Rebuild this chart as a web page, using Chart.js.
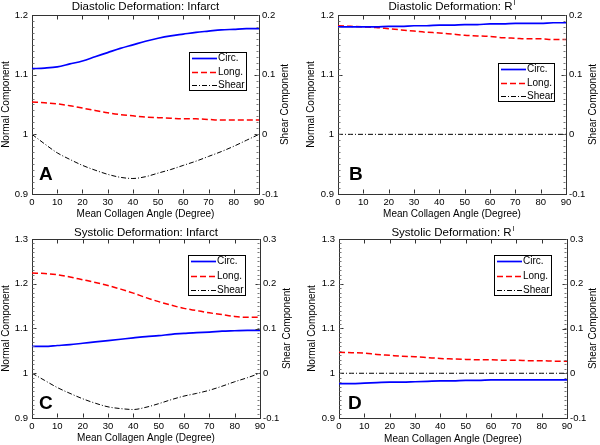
<!DOCTYPE html>
<html>
<head>
<meta charset="utf-8">
<script src="https://cdn.jsdelivr.net/npm/chart.js@4.4.1/dist/chart.umd.min.js"></script>
<style>
  html, body { margin: 0; padding: 0; background: #fff; }
  #wrap { position: relative; width: 600px; height: 445px; }
  canvas { position: absolute; }
</style>
</head>
<body>
<div id="wrap">
  <canvas id="cA" width="300" height="222" style="left:0;top:0"></canvas>
  <canvas id="cB" width="300" height="222" style="left:300px;top:0"></canvas>
  <canvas id="cC" width="300" height="223" style="left:0;top:222px"></canvas>
  <canvas id="cD" width="300" height="223" style="left:300px;top:222px"></canvas>
</div>
<script>
// --- data (every 5 degrees) ---
const angles = [0, 5, 10, 15, 20, 25, 30, 35, 40, 45, 50, 55, 60, 65, 70, 75, 80, 85, 90];
const angleTicks = [0, 10, 20, 30, 40, 50, 60, 70, 80, 90];
const seriesLabels = ["Circ.", "Long.", "Shear"];

// Diastolic, infarct
const diaInfCirc  = [1.110, 1.111, 1.113, 1.118, 1.123, 1.130, 1.137, 1.144, 1.150, 1.156, 1.161, 1.165, 1.168, 1.171, 1.173, 1.175, 1.176, 1.177, 1.177];
const diaInfLong  = [1.054, 1.053, 1.051, 1.048, 1.044, 1.040, 1.036, 1.033, 1.031, 1.029, 1.028, 1.027, 1.026, 1.026, 1.025, 1.024, 1.024, 1.024, 1.024];
const diaInfShear = [0, -0.016, -0.031, -0.042, -0.052, -0.060, -0.067, -0.072, -0.074, -0.071, -0.065, -0.059, -0.052, -0.045, -0.037, -0.029, -0.020, -0.010, 0];
// Diastolic, remote
const diaRiCirc  = [1.180, 1.180, 1.180, 1.180, 1.181, 1.181, 1.182, 1.182, 1.183, 1.183, 1.184, 1.184, 1.185, 1.185, 1.186, 1.186, 1.186, 1.187, 1.187];
const diaRiLong  = [1.182, 1.181, 1.180, 1.179, 1.177, 1.175, 1.173, 1.171, 1.170, 1.168, 1.166, 1.165, 1.164, 1.162, 1.161, 1.160, 1.160, 1.159, 1.159];
const diaRiShear = [0, 0, 0, 0, 0, 0, 0, 0, 0, 0, 0, 0, 0, 0, 0, 0, 0, 0, 0];
// Systolic, infarct
const sysInfCirc  = [1.060, 1.060, 1.062, 1.064, 1.067, 1.070, 1.073, 1.076, 1.079, 1.082, 1.084, 1.087, 1.089, 1.091, 1.092, 1.094, 1.095, 1.096, 1.096];
const sysInfLong  = [1.224, 1.223, 1.220, 1.215, 1.209, 1.203, 1.196, 1.188, 1.179, 1.169, 1.160, 1.152, 1.145, 1.140, 1.135, 1.131, 1.127, 1.125, 1.125];
const sysInfShear = [0, -0.016, -0.032, -0.045, -0.057, -0.067, -0.075, -0.079, -0.081, -0.076, -0.068, -0.059, -0.051, -0.045, -0.038, -0.029, -0.019, -0.010, 0];
// Systolic, remote
const sysRiCirc  = [0.977, 0.977, 0.978, 0.979, 0.980, 0.980, 0.981, 0.982, 0.983, 0.983, 0.984, 0.984, 0.985, 0.985, 0.985, 0.985, 0.985, 0.985, 0.985];
const sysRiLong  = [1.047, 1.046, 1.045, 1.042, 1.040, 1.038, 1.037, 1.035, 1.033, 1.032, 1.031, 1.030, 1.030, 1.029, 1.029, 1.028, 1.028, 1.027, 1.027];
const sysRiShear = [0, 0, 0, 0, 0, 0, 0, 0, 0, 0, 0, 0, 0, 0, 0, 0, 0, 0, 0];

const normTicksDia  = [0.9, 1, 1.1, 1.2];
const shearTicksDia = [-0.1, 0, 0.1, 0.2];
const normTicksSys  = [0.9, 1, 1.1, 1.2, 1.3];
const shearTicksSys = [-0.1, 0, 0.1, 0.2, 0.3];

const FONT = "'Liberation Sans', Arial, Helvetica, sans-serif";
const AXIS_COLOR = "#333";

// per-panel layout (pixels inside each 300px canvas)
const panels = [
  { canvas: "cA", title: "Diastolic Deformation: ", main: "Infarct", sup: null, letter: "A",
    circ: diaInfCirc, long: diaInfLong, shear: diaInfShear, norm: normTicksDia, shr: shearTicksDia,
    leftW: 32, rightW: 41, topPad: 15, bottomH: 28, titleY: 7, letterPos: [39, 180],
    legend: { x: 189, y: 52, w: 58, h: 39 }, leftTitlePad: 0, xTitlePad: 2, rightTitleX: 285 },
  { canvas: "cB", title: "Diastolic Deformation: ", main: "R", sup: "I", letter: "B",
    circ: diaRiCirc, long: diaRiLong, shear: diaRiShear, norm: normTicksDia, shr: shearTicksDia,
    leftW: 38, rightW: 34, topPad: 15, bottomH: 28, titleY: 7, letterPos: [49, 180],
    legend: { x: 198, y: 63, w: 57, h: 39 }, leftTitlePad: 5, xTitlePad: 2, rightTitleX: 293 },
  { canvas: "cC", title: "Systolic Deformation: ", main: "Infarct", sup: null, letter: "C",
    circ: sysInfCirc, long: sysInfLong, shear: sysInfShear, norm: normTicksSys, shr: shearTicksSys,
    leftW: 32, rightW: 40, topPad: 17, bottomH: 27, titleY: 11, letterPos: [39, 187],
    legend: { x: 188, y: 33, w: 58, h: 41 }, leftTitlePad: 0.5, xTitlePad: 0.5, rightTitleX: 287 },
  { canvas: "cD", title: "Systolic Deformation: ", main: "R", sup: "I", letter: "D",
    circ: sysRiCirc, long: sysRiLong, shear: sysRiShear, norm: normTicksSys, shr: shearTicksSys,
    leftW: 39, rightW: 33, topPad: 17, bottomH: 27, titleY: 11, letterPos: [48, 187],
    legend: { x: 194, y: 33, w: 58, h: 41 }, leftTitlePad: 6, xTitlePad: 0, rightTitleX: 293 }
];

function toPoints(values) {
  return angles.map((a, i) => ({ x: a, y: values[i] }));
}

function line(ctx, x1, y1, x2, y2) {
  ctx.beginPath();
  ctx.moveTo(x1, y1);
  ctx.lineTo(x2, y2);
  ctx.stroke();
}

// axes box, inward ticks, title, panel letter, right axis title and legend box
const decorPlugin = {
  id: "decor",
  afterDraw(chart, args, p) {
    const ctx = chart.ctx;
    const a = chart.chartArea;
    const xs = chart.scales.x, ys = chart.scales.y, ys2 = chart.scales.y2;
    const L = Math.round(a.left) + 0.5, R = Math.round(a.right) - 0.5;
    const T = Math.round(a.top) + 0.5, B = Math.round(a.bottom) - 0.5;
    ctx.save();
    ctx.strokeStyle = AXIS_COLOR;
    ctx.lineWidth = 1;
    line(ctx, L, T, R, T);

    xs.ticks.forEach(t => {
      const px = Math.round(xs.getPixelForValue(t.value)) + 0.5;
      line(ctx, px, B, px, B - 4);
      line(ctx, px, T, px, T + 4);
    });
    ys.ticks.forEach(t => {
      const py = Math.round(ys.getPixelForValue(t.value)) + 0.5;
      line(ctx, L, py, L + 4, py);
    });
    ys2.ticks.forEach(t => {
      const py = Math.round(ys2.getPixelForValue(t.value)) + 0.5;
      line(ctx, R, py, R - 4, py);
    });
    // minor ticks every 0.01 on both vertical axes
    ctx.strokeStyle = "#777";
    const nMinor = Math.round((ys.max - ys.min) / 0.01);
    for (let i = 1; i < nMinor; i++) {
      const py = Math.round(ys.getPixelForValue(ys.min + i * 0.01)) + 0.5;
      line(ctx, L, py, L + 2, py);
      line(ctx, R, py, R - 2, py);
    }

    // title
    ctx.fillStyle = "#000";
    ctx.textBaseline = "middle";
    ctx.textAlign = "left";
    ctx.font = "11.5px " + FONT;
    const cx = (a.left + a.right) / 2;
    const head = p.title + p.main;
    const wHead = ctx.measureText(head).width;
    ctx.font = "7px " + FONT;
    const wSup = p.sup ? ctx.measureText(p.sup).width + 1 : 0;
    const x0 = cx - (wHead + wSup) / 2;
    ctx.font = "11.5px " + FONT;
    ctx.fillText(head, x0, p.titleY);
    if (p.sup) {
      ctx.font = "7px " + FONT;
      ctx.fillText(p.sup, x0 + wHead + 1, p.titleY - 4);
    }

    // panel letter
    ctx.font = "bold 19px " + FONT;
    ctx.textBaseline = "alphabetic";
    ctx.fillText(p.letter, p.letterPos[0], p.letterPos[1]);

    // right axis title, reading bottom to top
    ctx.save();
    ctx.translate(p.rightTitleX, (a.top + a.bottom) / 2);
    ctx.rotate(-Math.PI / 2);
    ctx.font = "10px " + FONT;
    ctx.textAlign = "center";
    ctx.textBaseline = "middle";
    ctx.fillText("Shear Component", 0, 0);
    ctx.restore();

    // legend
    const lg = p.legend;
    ctx.fillStyle = "#fff";
    ctx.fillRect(lg.x, lg.y, lg.w, lg.h);
    ctx.strokeStyle = "#000";
    ctx.lineWidth = 1;
    ctx.strokeRect(lg.x + 0.5, lg.y + 0.5, lg.w - 1, lg.h - 1);
    const rowH = (lg.h - 12) / 2;
    ctx.font = "10px " + FONT;
    ctx.textBaseline = "middle";
    ctx.textAlign = "left";
    chart.data.datasets.forEach((ds, i) => {
      const ry = Math.round(lg.y + 6 + i * rowH) + 0.5;
      ctx.strokeStyle = ds.borderColor;
      ctx.lineWidth = ds.borderWidth;
      ctx.setLineDash(ds.borderDash || []);
      line(ctx, lg.x + 3, ry, lg.x + 28, ry);
      ctx.setLineDash([]);
      ctx.fillStyle = "#000";
      ctx.fillText(ds.label, lg.x + 29, ry);
    });
    ctx.restore();
  }
};

function tickSetter(values) {
  return scale => { scale.ticks = values.map(v => ({ value: v })); };
}

function buildChart(p) {
  const tickFont = { family: FONT, size: 9.5 };
  const titleFont = { family: FONT, size: 10 };
  return new Chart(document.getElementById(p.canvas), {
    type: "line",
    data: {
      datasets: [
        { label: seriesLabels[0], data: toPoints(p.circ), yAxisID: "y",
          borderColor: "#0000ff", borderWidth: 1.7, pointRadius: 0, cubicInterpolationMode: "monotone" },
        { label: seriesLabels[1], data: toPoints(p.long), yAxisID: "y",
          borderColor: "#ff0000", borderWidth: 1.5, borderDash: [6, 3], pointRadius: 0, cubicInterpolationMode: "monotone" },
        { label: seriesLabels[2], data: toPoints(p.shear), yAxisID: "y2",
          borderColor: "#000000", borderWidth: 1, borderDash: [5, 2, 1, 2], pointRadius: 0, cubicInterpolationMode: "monotone" }
      ]
    },
    options: {
      responsive: false,
      animation: false,
      devicePixelRatio: 1,
      layout: { padding: { top: p.topPad, left: 0, right: 0, bottom: 0 } },
      plugins: { legend: { display: false }, tooltip: { enabled: false }, decor: p },
      scales: {
        x: {
          type: "linear", min: angleTicks[0], max: angleTicks[angleTicks.length - 1],
          afterBuildTicks: tickSetter(angleTicks),
          afterFit: s => { s.height = p.bottomH; },
          ticks: { font: tickFont, color: "#000", padding: 3, maxRotation: 0, autoSkip: false },
          grid: { drawOnChartArea: false, drawTicks: false },
          border: { color: AXIS_COLOR },
          title: { display: true, text: "Mean Collagen Angle (Degree)", font: titleFont, color: "#000",
                   padding: { top: 0, bottom: p.xTitlePad } }
        },
        y: {
          type: "linear", position: "left", min: p.norm[0], max: p.norm[p.norm.length - 1],
          afterBuildTicks: tickSetter(p.norm),
          afterFit: s => { s.width = p.leftW; },
          ticks: { font: tickFont, color: "#000", padding: 4, autoSkip: false, callback: v => String(v) },
          grid: { drawOnChartArea: false, drawTicks: false },
          border: { color: AXIS_COLOR },
          title: { display: true, text: "Normal Component", font: titleFont, color: "#000",
                   padding: { top: p.leftTitlePad, bottom: 0 } }
        },
        y2: {
          type: "linear", position: "right", min: p.shr[0], max: p.shr[p.shr.length - 1],
          afterBuildTicks: tickSetter(p.shr),
          afterFit: s => { s.width = p.rightW; },
          ticks: { font: tickFont, color: "#000", padding: 3, autoSkip: false, callback: v => String(v) },
          grid: { drawOnChartArea: false, drawTicks: false },
          border: { color: AXIS_COLOR }
        }
      }
    },
    plugins: [decorPlugin]
  });
}

panels.forEach(buildChart);
</script>
</body>
</html>
